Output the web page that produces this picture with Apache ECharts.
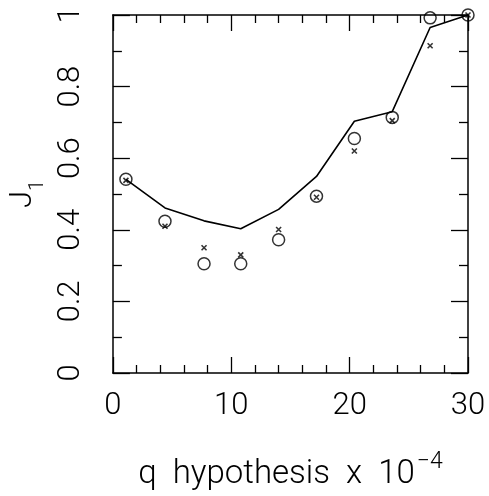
<!DOCTYPE html>
<html>
<head>
<meta charset="utf-8">
<script src="https://cdn.jsdelivr.net/npm/echarts@6/dist/echarts.min.js"></script>
<style>html,body{margin:0;padding:0;background:#fff}#c{width:489px;height:496px}</style>
</head>
<body>
<div id="c"></div>
<script>
// data
const xValues = [1.1, 4.4, 7.7, 10.8, 14.0, 17.2, 20.4, 23.6, 26.8, 30.0];
const lineValues = [0.541, 0.461, 0.425, 0.403, 0.457, 0.549, 0.703, 0.730, 0.965, 1.0];
const circleValues = [0.541, 0.424, 0.305, 0.305, 0.372, 0.494, 0.655, 0.714, 0.992, 1.0];
const crossValues = [0.538, 0.410, 0.350, 0.330, 0.401, 0.491, 0.620, 0.705, 0.914, 1.0];
const xTicks = [0, 10, 20, 30];
const yTicks = [0, 0.2, 0.4, 0.6, 0.8, 1];

const pair = (ys) => xValues.map((x, i) => [x, ys[i]]);
const FONT = 'Roboto';
const fw = 300;

const chart = echarts.init(document.getElementById('c'), null, {renderer: 'canvas'});
const baseX = {
  type: 'value', min: 0, max: 30, interval: 10,
  axisLine: {show: true, onZero: false, lineStyle: {color: '#000', width: 1.5}},
  axisTick: {show: true, inside: true, length: 16, lineStyle: {color: '#000', width: 1.3}},
  minorTick: {show: true, splitNumber: 5, length: 8, lineStyle: {color: '#000', width: 1.3}},
  splitLine: {show: false}
};
const baseY = {
  type: 'value', min: 0, max: 1, interval: 0.2,
  axisLine: {show: true, onZero: false, lineStyle: {color: '#000', width: 1.5}},
  axisTick: {show: true, inside: true, length: 17, lineStyle: {color: '#000', width: 1.3}},
  minorTick: {show: true, splitNumber: 2, length: 9, lineStyle: {color: '#000', width: 1.3}},
  splitLine: {show: false}
};

chart.setOption({
  animation: false,
  backgroundColor: '#fff',
  grid: {left: 110, right: 21, top: 15, bottom: 118, containLabel: false},
  xAxis: [
    Object.assign({}, baseX, {
      position: 'bottom',
      axisLabel: {
        show: true, margin: 18, color: '#000', fontSize: 31, fontFamily: FONT, fontWeight: fw,
        formatter: (v) => xTicks.includes(v) ? String(v) : ''
      },
      name: '{m|q  hypothesis  x  10}{s|−4}',
      nameLocation: 'middle', nameGap: 78,
      nameTextStyle: {
        rich: {
          m: {fontSize: 33, fontFamily: FONT, fontWeight: fw, color: '#000', verticalAlign: 'bottom', lineHeight: 40},
          s: {fontSize: 23, fontFamily: FONT, fontWeight: fw, color: '#000', verticalAlign: 'top', lineHeight: 40, padding: [0, 0, 0, 2]}
        }
      }
    }),
    Object.assign({}, baseX, {position: 'top', axisLabel: {show: false}})
  ],
  yAxis: [
    Object.assign({}, baseY, {
      position: 'left',
      axisLabel: {
        show: true, rotate: 90, margin: 26, color: '#000', fontSize: 31, fontFamily: FONT, fontWeight: fw,
        formatter: (v) => {
          const t = yTicks.find(k => Math.abs(k - v) < 1e-6);
          return t === undefined ? '' : String(t);
        }
      },
      name: '{m|J}{s|1}',
      nameLocation: 'middle', nameGap: 62, nameRotate: 90,
      nameTextStyle: {
        rich: {
          m: {fontSize: 31, fontFamily: FONT, fontWeight: fw, color: '#000', verticalAlign: 'top', lineHeight: 40},
          s: {fontSize: 20, fontFamily: FONT, fontWeight: fw, color: '#000', verticalAlign: 'bottom', lineHeight: 40}
        }
      }
    }),
    Object.assign({}, baseY, {position: 'right', axisLabel: {show: false}})
  ],
  series: [
    {
      type: 'line', data: pair(lineValues), showSymbol: false, symbol: 'none',
      lineStyle: {color: '#000', width: 1.6}, z: 2
    },
    {
      type: 'scatter', data: pair(circleValues), symbol: 'circle', symbolSize: 12,
      itemStyle: {color: 'rgba(0,0,0,0)', borderColor: '#000', borderWidth: 1.5}, z: 3
    },
    {
      type: 'scatter', data: pair(crossValues), symbol: 'path://M0,0L10,10M10,0L0,10', symbolSize: 5,
      itemStyle: {color: 'rgba(0,0,0,0)', borderColor: '#000', borderWidth: 1.6}, z: 4
    }
  ]
});
</script>
</body>
</html>
